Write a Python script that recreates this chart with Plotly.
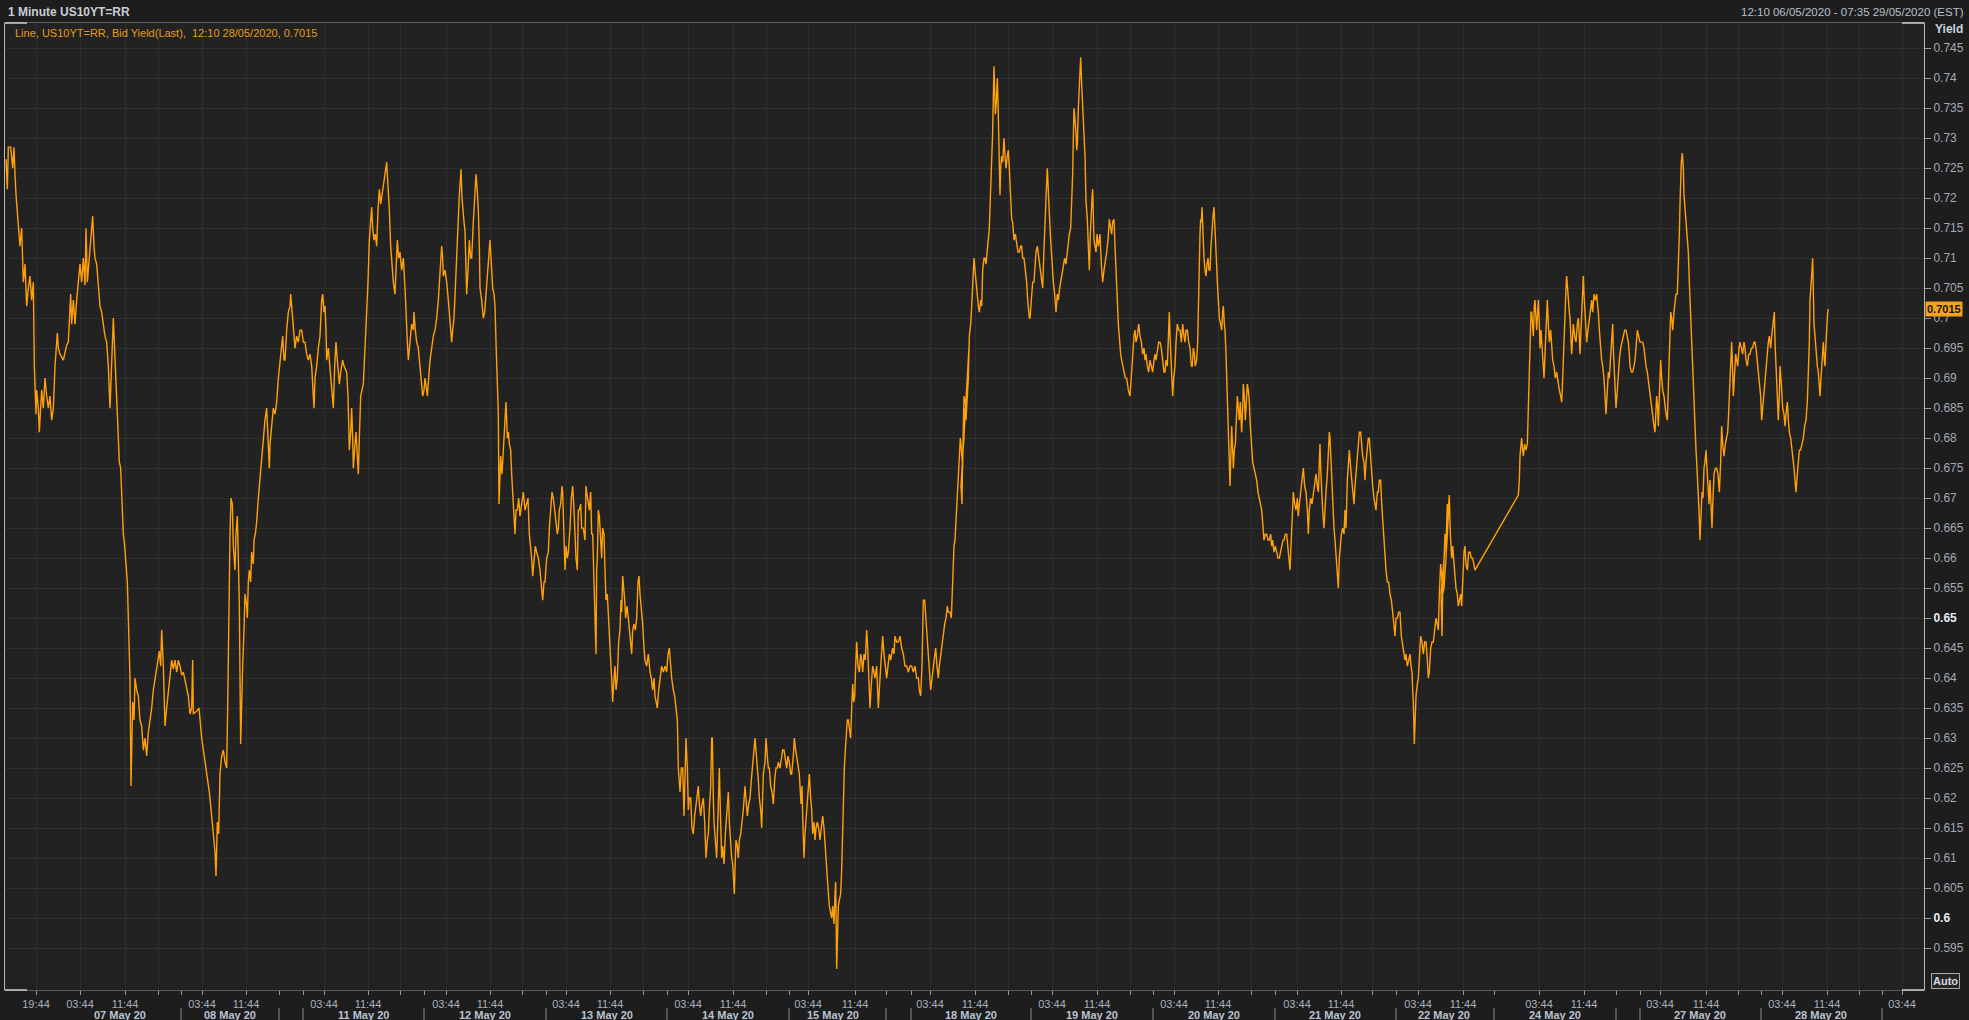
import plotly.graph_objects as go

# ---------------- data (bar index on compressed 1-minute time axis, yield) ----------------
BLOCK_OFFSET = [0, 1440, 2880, 4320]

BLOCK_A = [
    (18, 0.7265), (22, 0.7215), (25, 0.7285), (32, 0.7285), (38, 0.7250), (42, 0.7285), (45, 0.7240),
    (48, 0.7206), (55, 0.7155), (60, 0.7120), (65, 0.7150), (70, 0.7060), (75, 0.7090), (80, 0.7020),
    (85, 0.7050), (90, 0.7070), (95, 0.7030), (100, 0.7060), (103, 0.6920), (108, 0.6840), (110, 0.6880),
    (115, 0.6850), (118, 0.6810), (125, 0.6880), (130, 0.6850), (135, 0.6900), (140, 0.6870), (145, 0.6850),
    (150, 0.6870), (155, 0.6830), (160, 0.6850), (165, 0.6920), (172, 0.6975), (175, 0.6950), (180, 0.6940),
    (190, 0.6930), (200, 0.6955), (205, 0.6960), (212, 0.7040), (215, 0.6990), (220, 0.7030), (225, 0.6990),
    (230, 0.7030), (235, 0.7060), (240, 0.7090), (245, 0.7060), (250, 0.7100), (255, 0.7055), (258, 0.7150),
    (262, 0.7060), (265, 0.7080), (270, 0.7120), (275, 0.7150), (278, 0.7170), (282, 0.7120), (285, 0.7100),
    (290, 0.7090), (295, 0.7060), (300, 0.7020), (305, 0.7010), (310, 0.6990), (315, 0.6970), (320, 0.6960),
    (325, 0.6920), (330, 0.6850), (335, 0.6940), (340, 0.7000), (343, 0.6960), (345, 0.6930), (350, 0.6870),
    (355, 0.6810), (358, 0.6760), (362, 0.6750), (366, 0.6700), (370, 0.6640), (374, 0.6620), (378, 0.6580),
    (382, 0.6560), (385, 0.6500), (388, 0.6440), (390, 0.6400), (393, 0.6220), (396, 0.6350), (398, 0.6360),
    (402, 0.6330), (405, 0.6400), (410, 0.6380), (415, 0.6370), (420, 0.6330), (425, 0.6320), (430, 0.6280),
    (435, 0.6300), (440, 0.6270), (445, 0.6310), (450, 0.6330), (455, 0.6350), (460, 0.6380), (465, 0.6400),
    (470, 0.6420), (478, 0.6445), (482, 0.6420), (485, 0.6480), (490, 0.6420), (495, 0.6320), (500, 0.6350),
    (505, 0.6380), (510, 0.6400), (515, 0.6430), (520, 0.6415), (525, 0.6430), (530, 0.6410), (535, 0.6430),
    (540, 0.6420), (545, 0.6405), (550, 0.6410), (555, 0.6395), (560, 0.6380), (565, 0.6370), (570, 0.6340),
    (575, 0.6350), (578, 0.6430), (580, 0.6340), (590, 0.6345), (597, 0.6350), (605, 0.6300), (612, 0.6270),
    (620, 0.6240), (628, 0.6210), (635, 0.6170), (640, 0.6140), (645, 0.6110), (648, 0.6070), (652, 0.6160),
    (656, 0.6140), (660, 0.6240), (665, 0.6270), (670, 0.6280), (675, 0.6260), (680, 0.6250), (683, 0.6350),
    (685, 0.6440), (688, 0.6550), (690, 0.6640), (693, 0.6700), (697, 0.6690), (700, 0.6620), (705, 0.6580),
    (708, 0.6640), (712, 0.6670), (715, 0.6600), (718, 0.6520), (722, 0.6290), (725, 0.6380), (728, 0.6420),
    (732, 0.6480), (735, 0.6540), (740, 0.6520), (742, 0.6500), (745, 0.6560), (748, 0.6580), (752, 0.6560),
    (755, 0.6610), (760, 0.6590), (762, 0.6630), (766, 0.6640), (770, 0.6660), (775, 0.6700), (778, 0.6720),
    (782, 0.6750), (785, 0.6760), (790, 0.6800), (795, 0.6830), (800, 0.6850), (803, 0.6800), (805, 0.6770),
    (808, 0.6750), (810, 0.6790), (815, 0.6820), (820, 0.6850), (825, 0.6840), (830, 0.6860), (835, 0.6900),
    (840, 0.6930), (845, 0.6950), (848, 0.6970), (852, 0.6930), (855, 0.6930), (860, 0.6980), (865, 0.7010),
    (870, 0.7020), (872, 0.7040), (875, 0.7020), (878, 0.7000), (882, 0.6960), (885, 0.6950), (890, 0.6970),
    (895, 0.6960), (900, 0.6980), (905, 0.6980), (910, 0.6960), (915, 0.6960), (920, 0.6940), (925, 0.6930),
    (930, 0.6940), (935, 0.6920), (940, 0.6870), (942, 0.6850), (945, 0.6900), (950, 0.6920), (955, 0.6950),
    (960, 0.6970), (965, 0.7030), (968, 0.7040), (972, 0.7010), (975, 0.7020), (978, 0.6980), (980, 0.6930),
    (985, 0.6950), (990, 0.6920), (995, 0.6880), (1000, 0.6850), (1004, 0.6920), (1008, 0.6960), (1012, 0.6930),
    (1018, 0.6890), (1022, 0.6910), (1028, 0.6930), (1032, 0.6920), (1040, 0.6910), (1044, 0.6870), (1048, 0.6780),
    (1052, 0.6810), (1055, 0.6850), (1058, 0.6800), (1060, 0.6750), (1065, 0.6790), (1068, 0.6810), (1072, 0.6770),
    (1075, 0.6740), (1078, 0.6800), (1082, 0.6870), (1086, 0.6880), (1090, 0.6890), (1095, 0.6950), (1100, 0.7000),
    (1104, 0.7060), (1108, 0.7130), (1112, 0.7160), (1115, 0.7185), (1118, 0.7150), (1122, 0.7130), (1126, 0.7140),
    (1130, 0.7120), (1134, 0.7180), (1138, 0.7215), (1142, 0.7190), (1145, 0.7200), (1150, 0.7220), (1155, 0.7240),
    (1160, 0.7260), (1163, 0.7230), (1165, 0.7220), (1168, 0.7180), (1172, 0.7120), (1176, 0.7080), (1180, 0.7060),
    (1185, 0.7040), (1188, 0.7080), (1192, 0.7130), (1196, 0.7100), (1200, 0.7110), (1205, 0.7080), (1210, 0.7100),
    (1215, 0.7050), (1218, 0.7000), (1222, 0.6960), (1225, 0.6930), (1230, 0.6960), (1235, 0.6990), (1240, 0.6980),
    (1242, 0.7010), (1246, 0.6980), (1250, 0.6960), (1255, 0.6950), (1260, 0.6920), (1265, 0.6900), (1268, 0.6870),
    (1272, 0.6880), (1275, 0.6900), (1280, 0.6880), (1282, 0.6870), (1286, 0.6900), (1290, 0.6930), (1295, 0.6950),
    (1300, 0.6970), (1305, 0.6980), (1310, 0.7000), (1315, 0.7030), (1318, 0.7060), (1322, 0.7090), (1325, 0.7120),
    (1328, 0.7100), (1330, 0.7070), (1335, 0.7080), (1340, 0.7060), (1345, 0.7030), (1350, 0.7000), (1355, 0.6960),
    (1358, 0.6980), (1362, 0.7000), (1366, 0.7050), (1370, 0.7110), (1374, 0.7160), (1378, 0.7205), (1381, 0.7230),
    (1383, 0.7248), (1386, 0.7200), (1388, 0.7180), (1392, 0.7160), (1395, 0.7145), (1398, 0.7080), (1400, 0.7040),
    (1404, 0.7080), (1408, 0.7130), (1412, 0.7100), (1415, 0.7100), (1420, 0.7160), (1424, 0.7200), (1428, 0.7240),
    (1432, 0.7210), (1435, 0.7180), (1438, 0.7120), (1440, 0.7050),
]

BLOCK_B = [
    (5, 0.7030), (10, 0.7000), (14, 0.7010), (18, 0.7040), (22, 0.7070), (25, 0.7100), (30, 0.7130), (33, 0.7100),
    (35, 0.7070), (38, 0.7050), (42, 0.7040), (45, 0.7020), (48, 0.6960), (52, 0.6900), (55, 0.6840), (57, 0.6690),
    (60, 0.6770), (62, 0.6770), (66, 0.6740), (70, 0.6780), (75, 0.6830), (78, 0.6860), (82, 0.6800), (85, 0.6810),
    (88, 0.6790), (92, 0.6780), (95, 0.6740), (98, 0.6710), (102, 0.6660), (105, 0.6640), (108, 0.6680), (112, 0.6680),
    (116, 0.6700), (120, 0.6670), (125, 0.6690), (130, 0.6710), (135, 0.6680), (140, 0.6690), (144, 0.6700),
    (148, 0.6640), (152, 0.6620), (155, 0.6600), (158, 0.6570), (162, 0.6600), (166, 0.6620), (170, 0.6610),
    (175, 0.6600), (180, 0.6580), (184, 0.6560), (188, 0.6530), (192, 0.6560), (195, 0.6560), (200, 0.6600),
    (205, 0.6610), (208, 0.6650), (212, 0.6690), (216, 0.6710), (220, 0.6700), (225, 0.6670), (228, 0.6660),
    (232, 0.6640), (235, 0.6650), (238, 0.6680), (242, 0.6690), (246, 0.6720), (248, 0.6710), (252, 0.6640),
    (255, 0.6580), (258, 0.6620), (262, 0.6600), (265, 0.6610), (270, 0.6650), (274, 0.6700), (278, 0.6720),
    (282, 0.6680), (285, 0.6640), (288, 0.6600), (292, 0.6580), (295, 0.6680), (298, 0.6680), (302, 0.6690),
    (305, 0.6650), (310, 0.6650), (315, 0.6630), (318, 0.6720), (320, 0.6710), (324, 0.6690), (328, 0.6680),
    (332, 0.6710), (335, 0.6640), (338, 0.6640), (340, 0.6600), (343, 0.6560), (345, 0.6510), (348, 0.6440),
    (350, 0.6580), (352, 0.6600), (355, 0.6680), (358, 0.6670), (362, 0.6630), (365, 0.6600), (368, 0.6650),
    (372, 0.6640), (375, 0.6580), (378, 0.6530), (382, 0.6540), (385, 0.6500), (388, 0.6480), (392, 0.6430),
    (395, 0.6400), (398, 0.6360), (402, 0.6400), (405, 0.6420), (408, 0.6380), (412, 0.6400), (416, 0.6460),
    (420, 0.6480), (423, 0.6530), (425, 0.6510), (428, 0.6570), (430, 0.6560), (434, 0.6530), (437, 0.6500),
    (441, 0.6520), (445, 0.6500), (450, 0.6470), (455, 0.6440), (458, 0.6480), (462, 0.6490), (466, 0.6480),
    (470, 0.6500), (474, 0.6560), (477, 0.6570), (480, 0.6540), (484, 0.6520), (488, 0.6490), (492, 0.6450),
    (495, 0.6430), (500, 0.6420), (505, 0.6440), (510, 0.6410), (514, 0.6400), (518, 0.6380), (522, 0.6400),
    (525, 0.6370), (528, 0.6360), (532, 0.6350), (536, 0.6380), (540, 0.6400), (545, 0.6420), (550, 0.6410),
    (555, 0.6420), (560, 0.6410), (564, 0.6440), (568, 0.6450), (572, 0.6410), (575, 0.6400), (580, 0.6380),
    (584, 0.6370), (588, 0.6350), (592, 0.6330), (595, 0.6250), (598, 0.6230), (600, 0.6210), (604, 0.6250),
    (608, 0.6250), (612, 0.6170), (615, 0.6240), (618, 0.6300), (622, 0.6250), (625, 0.6180), (628, 0.6200),
    (632, 0.6200), (636, 0.6150), (640, 0.6140), (644, 0.6170), (648, 0.6190), (652, 0.6210), (655, 0.6220),
    (658, 0.6190), (662, 0.6170), (666, 0.6190), (670, 0.6200), (674, 0.6160), (678, 0.6100), (682, 0.6130),
    (685, 0.6140), (688, 0.6180), (692, 0.6220), (695, 0.6300), (697, 0.6300), (700, 0.6200), (702, 0.6160),
    (706, 0.6130), (710, 0.6100), (714, 0.6170), (718, 0.6250), (721, 0.6180), (725, 0.6100), (728, 0.6120),
    (732, 0.6090), (736, 0.6140), (740, 0.6170), (745, 0.6210), (748, 0.6160), (752, 0.6120), (755, 0.6100),
    (758, 0.6090), (763, 0.6040), (766, 0.6100), (768, 0.6130), (772, 0.6120), (775, 0.6100), (778, 0.6130),
    (782, 0.6140), (786, 0.6160), (790, 0.6180), (795, 0.6220), (798, 0.6200), (802, 0.6170), (806, 0.6190),
    (810, 0.6200), (814, 0.6230), (818, 0.6250), (822, 0.6280), (825, 0.6300), (828, 0.6280), (832, 0.6260),
    (835, 0.6230), (838, 0.6200), (842, 0.6180), (845, 0.6150), (848, 0.6200), (850, 0.6240), (855, 0.6260),
    (858, 0.6300), (862, 0.6270), (865, 0.6250), (868, 0.6250), (872, 0.6220), (876, 0.6210), (880, 0.6190),
    (884, 0.6230), (888, 0.6250), (892, 0.6250), (895, 0.6260), (900, 0.6250), (905, 0.6270), (908, 0.6280),
    (912, 0.6280), (916, 0.6260), (920, 0.6250), (924, 0.6270), (928, 0.6260), (932, 0.6240), (935, 0.6240),
    (940, 0.6270), (943, 0.6300), (947, 0.6280), (950, 0.6270), (954, 0.6260), (958, 0.6240), (963, 0.6190),
    (966, 0.6220), (968, 0.6170), (972, 0.6100), (975, 0.6140), (978, 0.6160), (982, 0.6200), (985, 0.6220),
    (988, 0.6240), (992, 0.6200), (995, 0.6180), (998, 0.6140), (1002, 0.6160), (1005, 0.6130), (1008, 0.6150),
    (1012, 0.6160), (1016, 0.6150), (1020, 0.6130), (1024, 0.6150), (1028, 0.6170), (1032, 0.6150), (1035, 0.6120),
    (1038, 0.6090), (1040, 0.6070), (1044, 0.6050), (1048, 0.6020), (1052, 0.6010), (1055, 0.6000), (1058, 0.6020),
    (1062, 0.5990), (1065, 0.6040), (1067, 0.6060), (1070, 0.5915), (1073, 0.6000), (1075, 0.6020), (1078, 0.6030),
    (1082, 0.6040), (1085, 0.6080), (1088, 0.6160), (1090, 0.6200), (1093, 0.6250), (1096, 0.6280), (1098, 0.6300),
    (1102, 0.6330), (1105, 0.6330), (1108, 0.6320), (1112, 0.6300), (1115, 0.6350), (1118, 0.6390), (1121, 0.6360),
    (1124, 0.6370), (1127, 0.6420), (1130, 0.6460), (1134, 0.6420), (1138, 0.6410), (1142, 0.6440), (1145, 0.6430),
    (1148, 0.6410), (1152, 0.6440), (1156, 0.6430), (1160, 0.6480), (1163, 0.6450), (1165, 0.6420), (1168, 0.6380),
    (1170, 0.6350), (1174, 0.6390), (1178, 0.6420), (1182, 0.6410), (1185, 0.6400), (1190, 0.6420), (1195, 0.6350),
    (1200, 0.6400), (1205, 0.6460), (1208, 0.6470), (1212, 0.6440), (1216, 0.6420), (1220, 0.6400), (1224, 0.6420),
    (1228, 0.6440), (1232, 0.6430), (1238, 0.6450), (1242, 0.6440), (1245, 0.6470), (1250, 0.6460), (1255, 0.6460),
    (1260, 0.6470), (1265, 0.6450), (1270, 0.6440), (1275, 0.6420), (1280, 0.6420), (1285, 0.6410), (1290, 0.6420),
    (1295, 0.6420), (1300, 0.6410), (1305, 0.6420), (1310, 0.6400), (1315, 0.6400), (1318, 0.6380), (1322, 0.6370),
    (1326, 0.6420), (1330, 0.6530), (1334, 0.6530), (1338, 0.6500), (1342, 0.6460), (1345, 0.6440), (1348, 0.6420),
    (1352, 0.6380), (1356, 0.6400), (1360, 0.6420), (1364, 0.6440), (1367, 0.6450), (1371, 0.6420), (1375, 0.6400),
    (1378, 0.6420), (1382, 0.6440), (1386, 0.6450), (1390, 0.6470), (1394, 0.6490), (1398, 0.6500), (1402, 0.6520),
    (1405, 0.6510), (1410, 0.6510), (1414, 0.6500), (1418, 0.6580), (1422, 0.6620), (1425, 0.6630), (1428, 0.6660),
    (1432, 0.6690), (1435, 0.6720), (1438, 0.6770), (1441, 0.6800), (1443, 0.6790), (1446, 0.6760), (1448, 0.6750),
    (1450, 0.6820), (1452, 0.6870), (1455, 0.6860), (1458, 0.6850), (1461, 0.6880), (1463, 0.6900), (1466, 0.6930),
    (1468, 0.6960),
]

BLOCK_C = [
    (3, 0.6720), (6, 0.6690), (8, 0.6770), (12, 0.6800), (15, 0.6850), (18, 0.6830), (22, 0.6880), (25, 0.6900),
    (28, 0.6970), (32, 0.6990), (35, 0.7020), (38, 0.7050), (42, 0.7100), (45, 0.7080), (48, 0.7060), (52, 0.7040),
    (55, 0.7020), (58, 0.7010), (62, 0.7030), (65, 0.7020), (68, 0.7080), (72, 0.7100), (75, 0.7100), (78, 0.7090),
    (82, 0.7110), (85, 0.7130), (88, 0.7150), (91, 0.7200), (94, 0.7240), (96, 0.7270), (98, 0.7310), (100, 0.7370),
    (102, 0.7420), (104, 0.7380), (106, 0.7340), (109, 0.7360), (112, 0.7400), (114, 0.7360), (116, 0.7310),
    (118, 0.7260), (120, 0.7205), (122, 0.7250), (125, 0.7270), (128, 0.7260), (132, 0.7300), (135, 0.7270),
    (138, 0.7250), (142, 0.7270), (145, 0.7280), (148, 0.7250), (150, 0.7220), (153, 0.7190), (155, 0.7165),
    (158, 0.7160), (162, 0.7130), (166, 0.7140), (170, 0.7120), (174, 0.7110), (178, 0.7110), (182, 0.7120),
    (185, 0.7120), (188, 0.7100), (192, 0.7100), (196, 0.7080), (200, 0.7060), (203, 0.7030), (205, 0.7010),
    (208, 0.7000), (210, 0.7000), (214, 0.7030), (218, 0.7060), (222, 0.7060), (225, 0.7090), (228, 0.7110),
    (232, 0.7120), (236, 0.7100), (240, 0.7080), (244, 0.7060), (248, 0.7050), (251, 0.7100), (255, 0.7180),
    (258, 0.7200), (262, 0.7250), (265, 0.7200), (268, 0.7175), (272, 0.7130), (275, 0.7100), (278, 0.7080),
    (280, 0.7060), (284, 0.7040), (288, 0.7010), (292, 0.7040), (295, 0.7030), (299, 0.7050), (302, 0.7060),
    (306, 0.7070), (310, 0.7080), (314, 0.7100), (318, 0.7090), (322, 0.7110), (325, 0.7130), (328, 0.7140),
    (332, 0.7150), (335, 0.7190), (338, 0.7240), (340, 0.7300), (342, 0.7350), (345, 0.7330), (348, 0.7310),
    (350, 0.7280), (352, 0.7290), (355, 0.7350), (358, 0.7390), (360, 0.7420), (362, 0.7435), (365, 0.7390),
    (368, 0.7360), (370, 0.7340), (372, 0.7320), (375, 0.7270), (378, 0.7195), (380, 0.7180), (382, 0.7165),
    (385, 0.7120), (388, 0.7080), (391, 0.7140), (393, 0.7180), (396, 0.7200), (398, 0.7215), (400, 0.7170),
    (402, 0.7130), (405, 0.7120), (408, 0.7110), (411, 0.7140), (415, 0.7120), (418, 0.7130), (420, 0.7140),
    (424, 0.7090), (428, 0.7060), (432, 0.7080), (435, 0.7090), (438, 0.7100), (440, 0.7110), (444, 0.7130),
    (448, 0.7165), (452, 0.7150), (455, 0.7140), (458, 0.7160), (462, 0.7165), (465, 0.7120), (468, 0.7090),
    (470, 0.7060), (472, 0.7030), (475, 0.6990), (478, 0.6960), (482, 0.6940), (485, 0.6930), (488, 0.6920),
    (492, 0.6910), (496, 0.6900), (500, 0.6900), (505, 0.6880), (510, 0.6870), (514, 0.6910), (518, 0.6950),
    (522, 0.6970), (525, 0.6980), (528, 0.6960), (532, 0.6970), (536, 0.6990), (540, 0.6970), (544, 0.6960),
    (548, 0.6940), (552, 0.6950), (555, 0.6930), (558, 0.6940), (562, 0.6920), (566, 0.6910), (570, 0.6930),
    (574, 0.6920), (578, 0.6910), (582, 0.6930), (585, 0.6940), (588, 0.6930), (592, 0.6950), (596, 0.6960),
    (600, 0.6960), (604, 0.6950), (608, 0.6930), (612, 0.6910), (615, 0.6910), (618, 0.6930), (622, 0.6920),
    (625, 0.6960), (628, 0.7010), (630, 0.6970), (632, 0.6940), (635, 0.6910), (638, 0.6870), (641, 0.6900),
    (645, 0.6920), (648, 0.6960), (652, 0.6990), (656, 0.6980), (660, 0.6980), (664, 0.6960), (668, 0.6990),
    (672, 0.6970), (675, 0.6960), (678, 0.6980), (682, 0.6980), (686, 0.6960), (690, 0.6950), (694, 0.6920),
    (697, 0.6920), (700, 0.6950), (703, 0.6940), (706, 0.6920), (710, 0.6930), (713, 0.6960), (715, 0.7020),
    (717, 0.7080), (718, 0.7130), (720, 0.7140), (722, 0.7165), (724, 0.7160), (726, 0.7185), (728, 0.7140),
    (730, 0.7120), (732, 0.7100), (735, 0.7080), (738, 0.7070), (741, 0.7090), (744, 0.7100), (747, 0.7080),
    (750, 0.7080), (753, 0.7120), (756, 0.7150), (759, 0.7170), (762, 0.7185), (764, 0.7150), (766, 0.7130),
    (769, 0.7100), (772, 0.7060), (775, 0.7030), (778, 0.7000), (782, 0.6990), (785, 0.6980), (788, 0.7010),
    (790, 0.7020), (793, 0.6990), (795, 0.6980), (798, 0.6940), (800, 0.6900), (802, 0.6850), (805, 0.6790),
    (808, 0.6750), (810, 0.6720), (812, 0.6760), (815, 0.6820), (818, 0.6780), (820, 0.6750), (823, 0.6780),
    (826, 0.6790), (829, 0.6830), (832, 0.6870), (835, 0.6850), (838, 0.6830), (841, 0.6860), (845, 0.6810),
    (848, 0.6850), (850, 0.6890), (853, 0.6870), (856, 0.6830), (859, 0.6860), (862, 0.6890), (865, 0.6880),
    (868, 0.6860), (871, 0.6820), (875, 0.6770), (878, 0.6760), (882, 0.6750), (886, 0.6740), (890, 0.6730),
    (894, 0.6710), (898, 0.6700), (902, 0.6690), (905, 0.6680), (908, 0.6660), (912, 0.6630), (916, 0.6640),
    (920, 0.6640), (924, 0.6630), (928, 0.6630), (932, 0.6640), (935, 0.6620), (938, 0.6630), (942, 0.6610),
    (946, 0.6620), (950, 0.6610), (954, 0.6600), (958, 0.6600), (962, 0.6610), (965, 0.6620), (969, 0.6630),
    (972, 0.6630), (976, 0.6640), (980, 0.6640), (983, 0.6620), (986, 0.6600), (990, 0.6580), (993, 0.6620),
    (995, 0.6650), (998, 0.6690), (1000, 0.6710), (1004, 0.6690), (1008, 0.6680), (1012, 0.6700), (1015, 0.6670),
    (1018, 0.6690), (1022, 0.6710), (1026, 0.6730), (1030, 0.6750), (1034, 0.6720), (1038, 0.6710), (1042, 0.6680),
    (1045, 0.6640), (1048, 0.6680), (1052, 0.6700), (1056, 0.6690), (1060, 0.6710), (1064, 0.6730), (1068, 0.6740),
    (1072, 0.6720), (1075, 0.6710), (1078, 0.6760), (1080, 0.6790), (1082, 0.6750), (1085, 0.6710), (1088, 0.6680),
    (1092, 0.6650), (1095, 0.6690), (1098, 0.6710), (1102, 0.6740), (1105, 0.6770), (1108, 0.6810), (1110, 0.6800),
    (1113, 0.6760), (1115, 0.6730), (1118, 0.6700), (1122, 0.6650), (1125, 0.6630), (1128, 0.6600), (1132, 0.6580),
    (1135, 0.6550), (1138, 0.6600), (1140, 0.6620), (1144, 0.6640), (1148, 0.6650), (1152, 0.6640), (1155, 0.6680),
    (1158, 0.6650), (1162, 0.6730), (1165, 0.6760), (1168, 0.6780), (1172, 0.6750), (1175, 0.6730), (1178, 0.6710),
    (1182, 0.6690), (1185, 0.6720), (1188, 0.6740), (1192, 0.6770), (1195, 0.6790), (1198, 0.6810), (1202, 0.6810),
    (1205, 0.6790), (1208, 0.6770), (1212, 0.6760), (1215, 0.6730), (1218, 0.6760), (1222, 0.6780), (1225, 0.6800),
    (1228, 0.6800), (1232, 0.6760), (1235, 0.6730), (1238, 0.6720), (1242, 0.6700), (1245, 0.6690), (1248, 0.6680),
    (1252, 0.6710), (1255, 0.6710), (1258, 0.6730), (1262, 0.6730), (1265, 0.6690), (1268, 0.6660), (1272, 0.6630),
    (1275, 0.6600), (1278, 0.6580), (1282, 0.6560), (1286, 0.6560), (1290, 0.6540), (1294, 0.6530), (1298, 0.6510),
    (1302, 0.6490), (1305, 0.6470), (1308, 0.6500), (1312, 0.6500), (1316, 0.6510), (1320, 0.6510), (1324, 0.6470),
    (1328, 0.6450), (1332, 0.6440), (1335, 0.6430), (1338, 0.6440), (1342, 0.6420), (1346, 0.6430), (1350, 0.6440),
    (1353, 0.6420), (1356, 0.6410), (1358, 0.6380), (1360, 0.6360), (1363, 0.6290), (1366, 0.6340), (1368, 0.6370),
    (1372, 0.6390), (1375, 0.6400), (1378, 0.6430), (1382, 0.6470), (1386, 0.6460), (1390, 0.6440), (1394, 0.6460),
    (1398, 0.6460), (1402, 0.6430), (1405, 0.6400), (1408, 0.6410), (1412, 0.6450), (1416, 0.6460), (1420, 0.6460),
    (1424, 0.6480), (1428, 0.6500), (1432, 0.6490), (1435, 0.6480), (1438, 0.6540), (1442, 0.6590), (1445, 0.6570),
    (1448, 0.6540), (1452, 0.6550), (1455, 0.6570), (1458, 0.6600), (1462, 0.6640), (1465, 0.6670), (1468, 0.6700),
]

BLOCK_D = [
    (3, 0.6540), (6, 0.6470), (8, 0.6540), (12, 0.6600), (15, 0.6640), (18, 0.6620), (22, 0.6690), (25, 0.6680),
    (28, 0.6705), (31, 0.6640), (35, 0.6600), (38, 0.6620), (42, 0.6580), (45, 0.6570), (48, 0.6550), (52, 0.6540),
    (55, 0.6520), (58, 0.6530), (62, 0.6540), (65, 0.6520), (68, 0.6570), (72, 0.6610), (75, 0.6620), (78, 0.6590),
    (82, 0.6580), (86, 0.6610), (90, 0.6610), (94, 0.6600), (98, 0.6600), (102, 0.6590), (105, 0.6580),
    (235, 0.6705), (238, 0.6730), (240, 0.6770), (243, 0.6800), (245, 0.6800), (248, 0.6780), (250, 0.6770),
    (254, 0.6790), (258, 0.6780), (262, 0.6790), (265, 0.6850), (268, 0.6930), (270, 0.6990), (273, 0.7010),
    (275, 0.7010), (278, 0.6990), (280, 0.6970), (283, 0.7020), (285, 0.7030), (288, 0.7000), (290, 0.6980),
    (293, 0.7010), (295, 0.7030), (298, 0.6990), (300, 0.6950), (303, 0.6980), (305, 0.6960), (308, 0.6930),
    (310, 0.6910), (312, 0.6900), (315, 0.6940), (318, 0.6970), (320, 0.7000), (322, 0.7030), (325, 0.6990),
    (328, 0.6960), (332, 0.6980), (335, 0.6940), (338, 0.6930), (342, 0.6920), (346, 0.6900), (350, 0.6910),
    (354, 0.6890), (358, 0.6880), (362, 0.6870), (365, 0.6860), (368, 0.6900), (370, 0.6930), (372, 0.6980),
    (375, 0.7030), (378, 0.7050), (380, 0.7070), (383, 0.7040), (385, 0.7030), (388, 0.7010), (390, 0.7000),
    (393, 0.6960), (395, 0.6940), (398, 0.6970), (400, 0.6990), (404, 0.6970), (408, 0.6960), (412, 0.6990),
    (415, 0.7000), (418, 0.6970), (420, 0.6940), (423, 0.6980), (425, 0.7000), (428, 0.7050), (430, 0.7070),
    (432, 0.7040), (435, 0.7010), (438, 0.6980), (440, 0.6960), (444, 0.6980), (448, 0.7000), (452, 0.7020),
    (455, 0.7030), (458, 0.7010), (462, 0.7040), (466, 0.7030), (470, 0.7040), (473, 0.7020), (475, 0.7010),
    (478, 0.6980), (480, 0.6960), (483, 0.6950), (485, 0.6930), (488, 0.6920), (492, 0.6900), (495, 0.6870),
    (498, 0.6840), (502, 0.6880), (505, 0.6910), (508, 0.6900), (512, 0.6930), (515, 0.6960), (518, 0.6990),
    (520, 0.6950), (522, 0.6920), (525, 0.6880), (528, 0.6850), (532, 0.6880), (535, 0.6910), (538, 0.6930),
    (542, 0.6950), (546, 0.6960), (550, 0.6970), (554, 0.6980), (558, 0.6980), (562, 0.6970), (565, 0.6960),
    (568, 0.6940), (570, 0.6920), (574, 0.6910), (578, 0.6910), (582, 0.6920), (585, 0.6930), (588, 0.6950),
    (592, 0.6980), (596, 0.6970), (600, 0.6960), (604, 0.6960), (608, 0.6960), (612, 0.6950), (615, 0.6930),
    (618, 0.6920), (622, 0.6910), (626, 0.6890), (630, 0.6870), (634, 0.6850), (638, 0.6830), (642, 0.6820),
    (645, 0.6810), (648, 0.6840), (650, 0.6870), (653, 0.6850), (655, 0.6820), (658, 0.6870), (662, 0.6930),
    (665, 0.6900), (668, 0.6880), (672, 0.6870), (675, 0.6850), (678, 0.6840), (682, 0.6830), (685, 0.6880),
    (688, 0.6950), (690, 0.6980), (692, 0.7010), (695, 0.7000), (698, 0.6980), (702, 0.7010), (705, 0.7030),
    (708, 0.7040), (712, 0.7040), (715, 0.7080), (718, 0.7140), (720, 0.7190), (722, 0.7240), (724, 0.7260),
    (727, 0.7275), (730, 0.7250), (732, 0.7205), (735, 0.7180), (738, 0.7165), (740, 0.7150), (742, 0.7140),
    (745, 0.7110), (748, 0.7060), (750, 0.7030), (752, 0.7000), (755, 0.6960), (758, 0.6920), (760, 0.6880),
    (762, 0.6840), (765, 0.6810), (768, 0.6780), (771, 0.6750), (774, 0.6720), (777, 0.6680), (780, 0.6630),
    (783, 0.6670), (786, 0.6710), (789, 0.6700), (792, 0.6750), (795, 0.6760), (798, 0.6780), (801, 0.6750),
    (804, 0.6710), (807, 0.6690), (810, 0.6730), (813, 0.6700), (816, 0.6650), (819, 0.6700), (822, 0.6740),
    (826, 0.6750), (830, 0.6750), (834, 0.6740), (838, 0.6710), (842, 0.6760), (845, 0.6820), (848, 0.6790),
    (852, 0.6770), (856, 0.6790), (860, 0.6800), (863, 0.6810), (865, 0.6830), (868, 0.6870), (870, 0.6910),
    (873, 0.6940), (875, 0.6960), (878, 0.6910), (880, 0.6870), (884, 0.6910), (887, 0.6940), (890, 0.6930),
    (893, 0.6920), (897, 0.6950), (900, 0.6960), (904, 0.6950), (908, 0.6940), (912, 0.6960), (915, 0.6950),
    (918, 0.6930), (922, 0.6920), (926, 0.6940), (930, 0.6940), (934, 0.6950), (938, 0.6950), (942, 0.6960),
    (945, 0.6960), (948, 0.6950), (952, 0.6930), (955, 0.6910), (958, 0.6900), (962, 0.6870), (965, 0.6830),
    (968, 0.6850), (972, 0.6870), (975, 0.6900), (978, 0.6920), (982, 0.6940), (985, 0.6960), (988, 0.6970),
    (992, 0.6950), (995, 0.6970), (998, 0.6990), (1001, 0.7000), (1003, 0.7010), (1005, 0.6960), (1008, 0.6920),
    (1012, 0.6880), (1015, 0.6830), (1018, 0.6870), (1020, 0.6920), (1024, 0.6890), (1028, 0.6850), (1032, 0.6840),
    (1035, 0.6820), (1038, 0.6840), (1042, 0.6860), (1045, 0.6830), (1048, 0.6810), (1052, 0.6800), (1055, 0.6780),
    (1058, 0.6770), (1062, 0.6750), (1065, 0.6730), (1068, 0.6710), (1072, 0.6740), (1075, 0.6770), (1078, 0.6780),
    (1082, 0.6780), (1086, 0.6790), (1090, 0.6800), (1094, 0.6820), (1098, 0.6830), (1102, 0.6860), (1105, 0.6900),
    (1108, 0.6960), (1110, 0.7030), (1113, 0.7050), (1115, 0.7070), (1118, 0.7100), (1120, 0.7040), (1122, 0.6990),
    (1125, 0.6970), (1128, 0.6940), (1132, 0.6920), (1135, 0.6910), (1138, 0.6880), (1140, 0.6870), (1143, 0.6900),
    (1145, 0.6920), (1148, 0.6940), (1150, 0.6960), (1153, 0.6930), (1155, 0.6920), (1158, 0.6960), (1160, 0.6990),
    (1163, 0.7010), (1165, 0.7015),
]

LAST_VALUE = 0.7015

# axis ticks (bar positions) and labels
TIME_TICK_BARS = [108, 240, 375, 474, 606, 738, 972, 1104, 1200, 1338, 1470, 1566, 1698, 1830, 1929,
                  2064, 2199, 2298, 2424, 2565, 2790, 2925, 3024, 3156, 3291, 3390, 3522, 3654, 3753,
                  3891, 4023, 4116, 4254, 4389, 4617, 4752, 4980, 5118, 5214, 5346, 5481, 5577, 5706]
TIME_TICK_TEXT = ["19:44", "03:44", "11:44", "", "03:44", "11:44", "03:44", "11:44", "", "03:44", "11:44", "",
                  "03:44", "11:44", "", "03:44", "11:44", "", "03:44", "11:44", "03:44", "11:44", "",
                  "03:44", "11:44", "", "03:44", "11:44", "", "03:44", "11:44", "", "03:44", "11:44",
                  "03:44", "11:44", "03:44", "11:44", "", "03:44", "11:44", "", "03:44"]
DAY_SEP_BARS = [543, 837, 909, 1272, 1638, 2001, 2367, 2658, 2733, 3093, 3459, 3825, 4188, 4482,
                4848, 4920, 5283, 5646]
DAY_LABELS = ["07 May 20", "08 May 20", "11 May 20", "12 May 20", "13 May 20", "14 May 20", "15 May 20",
              "18 May 20", "19 May 20", "20 May 20", "21 May 20", "22 May 20", "24 May 20", "27 May 20",
              "28 May 20"]
DAY_LABEL_BARS = [360, 690, 1089, 1455, 1820, 2184, 2500, 2913, 3276, 3642, 4006, 4332, 4665, 5100, 5463]

Y_TICK_VALS = [0.595, 0.6, 0.605, 0.61, 0.615, 0.62, 0.625, 0.63, 0.635, 0.64, 0.645, 0.65, 0.655, 0.66,
               0.665, 0.67, 0.675, 0.68, 0.685, 0.69, 0.695, 0.7, 0.705, 0.71, 0.715, 0.72, 0.725, 0.73,
               0.735, 0.74, 0.745]
Y_TICK_TEXT = ["0.595", "0.6", "0.605", "0.61", "0.615", "0.62", "0.625", "0.63", "0.635", "0.64", "0.645",
               "0.65", "0.655", "0.66", "0.665", "0.67", "0.675", "0.68", "0.685", "0.69", "0.695", "0.7",
               "0.705", "0.71", "0.715", "0.72", "0.725", "0.73", "0.735", "0.74", "0.745"]
Y_BOLD = ["0.6", "0.65"]

X_RANGE = [15, 5772]
Y_RANGE = [0.5880, 0.7492]

# ---------------- build ----------------
bars, ylds = [], []
for off, block in zip(BLOCK_OFFSET, [BLOCK_A, BLOCK_B, BLOCK_C, BLOCK_D]):
    for b, v in block:
        bars.append(off + b)
        ylds.append(v)

FONT = "Liberation Sans, Arial, sans-serif"
W, H = 1969, 1020
ML, MR, MT, MB = 5, 45, 23, 30
PW, PH = W - ML - MR, H - MT - MB

ytext = [("<b><span style='color:#e6ebf2'>%s</span></b>" % t) if t in Y_BOLD else t for t in Y_TICK_TEXT]

fig = go.Figure()
fig.add_trace(go.Scatter(x=bars, y=ylds, mode="lines",
                         line=dict(color="#ffa00a", width=1.4), hoverinfo="skip", showlegend=False))

fig.update_layout(
    width=W, height=H, autosize=False,
    margin=dict(l=ML, r=MR, t=MT, b=MB, pad=0),
    paper_bgcolor="#1d1d1d", plot_bgcolor="#222222",
    font=dict(family=FONT, size=12, color="#a9b1bd"),
    showlegend=False,
    xaxis=dict(range=X_RANGE, tickmode="array", tickvals=TIME_TICK_BARS, ticktext=TIME_TICK_TEXT,
               ticks="outside", ticklen=4, tickcolor="#9a9a9a", tickwidth=1,
               tickfont=dict(family=FONT, size=11, color="#a9b1bd"),
               showgrid=True, gridcolor="#2e2e2e", gridwidth=1, zeroline=False,
               showline=True, linecolor="#5c5c5c", linewidth=1, mirror=True,
               minor=dict(tickmode="array", tickvals=DAY_SEP_BARS, ticks="outside", ticklen=4,
                          tickcolor="#9a9a9a", showgrid=False),
               fixedrange=True),
    yaxis=dict(side="right", range=Y_RANGE, tickmode="array", tickvals=Y_TICK_VALS, ticktext=ytext,
               ticks="outside", ticklen=6, tickcolor="#9a9a9a", tickwidth=1,
               tickfont=dict(family=FONT, size=12, color="#a2aab6"),
               showgrid=True, gridcolor="#2e2e2e", gridwidth=1, zeroline=False,
               showline=True, linecolor="#b9b9b9", linewidth=1, mirror=True, fixedrange=True),
)

shapes = []
# day separators in the date row
for b in DAY_SEP_BARS:
    shapes.append(dict(type="line", xref="x", yref="paper", x0=b, x1=b,
                       y0=-18 / PH, y1=-32 / PH, line=dict(color="#8c8c8c", width=1)))
# light corner brackets on the frame
cw = 22 / PW
for x0, x1 in [(0, cw), (1 - cw, 1)]:
    for yy in [0, 1]:
        shapes.append(dict(type="line", xref="paper", yref="paper", x0=x0, x1=x1, y0=yy, y1=yy,
                           line=dict(color="#cfcfcf", width=1.5)))
fig.update_layout(shapes=shapes)

ann = []
for lab, b in zip(DAY_LABELS, DAY_LABEL_BARS):
    ann.append(dict(x=b, xref="x", y=-24.5 / PH, yref="paper", text="<b>%s</b>" % lab, showarrow=False,
                    xanchor="center", yanchor="middle", font=dict(family=FONT, size=11, color="#b9c3d0")))
# header
ann.append(dict(x=1 / PW, xref="paper", y=1 + 11 / PH, yref="paper", text="<b>1 Minute US10YT=RR</b>",
                showarrow=False, xanchor="left", yanchor="middle",
                font=dict(family=FONT, size=12, color="#c9ced6")))
ann.append(dict(x=(1739 - ML) / PW, xref="paper", y=1 + 11 / PH, yref="paper",
                text="12:10 06/05/2020 - 07:35 29/05/2020 (EST)", showarrow=False,
                xanchor="left", yanchor="middle", font=dict(family=FONT, size=11.5, color="#b7c0cc")))
ann.append(dict(x=8 / PW, xref="paper", y=1 - 10 / PH, yref="paper",
                text="Line, US10YT=RR, Bid Yield(Last),  12:10 28/05/2020, %s" % LAST_VALUE,
                showarrow=False, xanchor="left", yanchor="middle",
                font=dict(family=FONT, size=11, color="#e69b18")))
# axis title
ann.append(dict(x=1, xref="paper", xshift=9, y=1, yref="paper", yshift=-6, text="<b>Yield</b>",
                showarrow=False, xanchor="left", yanchor="middle",
                font=dict(family=FONT, size=12, color="#c6d1e1")))
# last value flag
ann.append(dict(x=1, xref="paper", xshift=1, y=LAST_VALUE, yref="y", text="<b>%s</b>" % LAST_VALUE,
                showarrow=False, xanchor="left", yanchor="middle", bgcolor="#f7a21c", borderpad=1,
                font=dict(family=FONT, size=11, color="#151515")))
# Auto button
ann.append(dict(x=1, xref="paper", xshift=7, y=0, yref="paper", yshift=1, text="<b>Auto</b>",
                showarrow=False, xanchor="left", yanchor="bottom", bgcolor="#262626",
                bordercolor="#a8a8a8", borderwidth=1, borderpad=1,
                font=dict(family=FONT, size=11, color="#d3dbe6")))
fig.update_layout(annotations=ann)

fig.write_html("out.html", config={"displayModeBar": False},
               post_script="document.body.style.margin='0';document.body.style.overflow='hidden';")
